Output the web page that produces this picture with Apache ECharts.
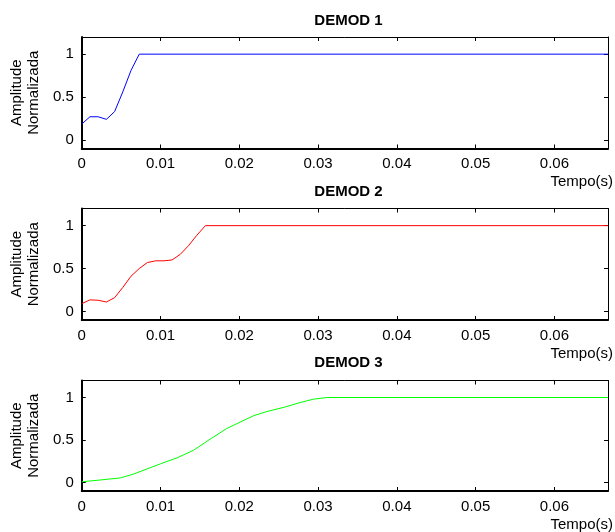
<!DOCTYPE html>
<html>
<head>
<meta charset="utf-8">
<script src="https://cdn.jsdelivr.net/npm/echarts@6/dist/echarts.min.js"></script>
<style>html,body{margin:0;padding:0;background:#fff;}#c{width:615px;height:532px;}</style>
</head>
<body>
<div id="c"></div>
<script>
var titles = ['DEMOD 1', 'DEMOD 2', 'DEMOD 3'];
var colors = ['#0000ff', '#ff0000', '#00ff00'];
var yName = 'Amplitude\nNormalizada';
var xName = 'Tempo(s)';
var xTicks = [0, 0.01, 0.02, 0.03, 0.04, 0.05, 0.06];
var yTicks = [0, 0.5, 1];
var xMax = 0.0668;

var demod1X = [0, 0.00104, 0.00208, 0.00313, 0.00417, 0.00521, 0.00625, 0.0073, 0.0668];
var demod1Y = [0.185, 0.27, 0.27, 0.24, 0.33, 0.56, 0.81, 1.0, 1.0];

var demod2X = [0, 0.00104, 0.00208, 0.00313, 0.00417, 0.00521, 0.00625, 0.0073, 0.00833, 0.00938, 0.01042, 0.01146, 0.0125, 0.01354, 0.01458, 0.0157, 0.0668];
var demod2Y = [0.09, 0.135, 0.13, 0.11, 0.16, 0.28, 0.41, 0.5, 0.57, 0.59, 0.59, 0.6, 0.665, 0.765, 0.885, 1.0, 1.0];

var demod3X = [0, 0.0024, 0.0049, 0.0066, 0.0083, 0.01, 0.0121, 0.0142, 0.0163, 0.0184, 0.0201, 0.0218, 0.0235, 0.0257, 0.0277, 0.0294, 0.0311, 0.0668];
var demod3Y = [0.008, 0.03, 0.054, 0.1, 0.16, 0.22, 0.29, 0.38, 0.51, 0.635, 0.71, 0.785, 0.835, 0.885, 0.94, 0.98, 1.0, 1.0];

var seriesX = [demod1X, demod2X, demod3X];
var seriesY = [demod1Y, demod2Y, demod3Y];

var font = 'Liberation Sans, Arial, Helvetica, sans-serif';
var gridTops = [37, 208.5, 380.5];
var titleTops = [8, 179, 350];

function fmt(v) { return String(Math.round(v * 100) / 100); }

var option = {
  backgroundColor: '#fff',
  animation: false,
  title: [], grid: [], xAxis: [], yAxis: [], series: []
};

for (var i = 0; i < 3; i++) {
  option.title.push({
    text: titles[i], left: 343.5, top: titleTops[i], textAlign: 'center',
    textStyle: { fontFamily: font, fontSize: 15, fontWeight: 'bold', color: '#000' }
  });
  option.grid.push({ left: 78, right: 7, top: gridTops[i], height: 111.5, containLabel: false });
  option.xAxis.push({
    type: 'value', gridIndex: i, position: 'bottom', min: 0, max: xMax,
    name: xName, nameLocation: 'end', nameGap: 5,
    nameTextStyle: { fontFamily: font, fontSize: 15, color: '#000', align: 'right', verticalAlign: 'top', padding: [26, 0, 0, 0] },
    axisLine: { show: true, onZero: false, lineStyle: { color: '#000', width: 2 } },
    axisTick: { show: true, inside: true, length: 4, customValues: xTicks, lineStyle: { color: '#000' } },
    axisLabel: { show: true, customValues: xTicks, formatter: fmt, margin: 8, fontFamily: font, fontSize: 15, color: '#000' },
    splitLine: { show: false }
  });
  option.xAxis.push({
    type: 'value', gridIndex: i, position: 'top', min: 0, max: xMax,
    axisLine: { show: true, onZero: false, lineStyle: { color: '#000', width: 1 } },
    axisTick: { show: true, inside: true, length: 4, customValues: xTicks, lineStyle: { color: '#000' } },
    axisLabel: { show: false }, splitLine: { show: false }
  });
  option.yAxis.push({
    type: 'value', gridIndex: i, position: 'left', min: -0.1, max: 1.2,
    name: yName, nameLocation: 'middle', nameRotate: 90, nameGap: 35,
    nameTextStyle: { fontFamily: font, fontSize: 15, color: '#000', lineHeight: 17 },
    axisLine: { show: true, onZero: false, lineStyle: { color: '#000', width: 2 } },
    axisTick: { show: true, inside: true, length: 4, customValues: yTicks, lineStyle: { color: '#000' } },
    axisLabel: { show: true, customValues: yTicks, formatter: function (v) { return String(v); }, margin: 8, fontFamily: font, fontSize: 15, color: '#000' },
    splitLine: { show: false }
  });
  option.yAxis.push({
    type: 'value', gridIndex: i, position: 'right', min: -0.1, max: 1.2,
    axisLine: { show: true, onZero: false, lineStyle: { color: '#000', width: 1 } },
    axisTick: { show: true, inside: true, length: 4, customValues: yTicks, lineStyle: { color: '#000' } },
    axisLabel: { show: false }, splitLine: { show: false }
  });
  var pts = [];
  for (var k = 0; k < seriesX[i].length; k++) pts.push([seriesX[i][k], seriesY[i][k]]);
  option.series.push({
    type: 'line', xAxisIndex: i * 2, yAxisIndex: i * 2, data: pts,
    showSymbol: false, smooth: false, lineStyle: { color: colors[i], width: 1 }, silent: true
  });
}

var chart = echarts.init(document.getElementById('c'), null, { renderer: 'canvas' });
chart.setOption(option);
</script>
</body>
</html>
